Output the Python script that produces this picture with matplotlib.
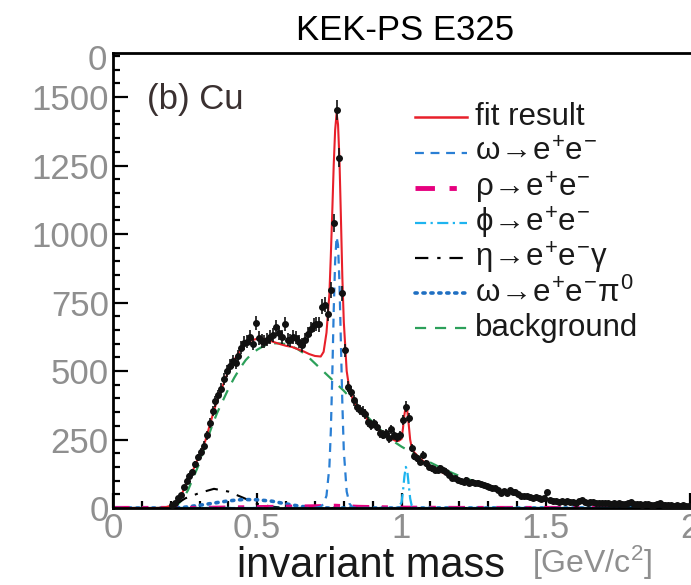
# Invariant mass spectrum, Cu target (KEK-PS E325 style)

import matplotlib
matplotlib.use("Agg")
import matplotlib.pyplot as plt
import numpy as np
from matplotlib.lines import Line2D
from matplotlib.ticker import MultipleLocator

plt.rcParams['font.family'] = ['Liberation Sans', 'DejaVu Sans']
plt.rcParams['mathtext.fontset'] = 'custom'
plt.rcParams['mathtext.rm'] = 'Liberation Sans'
plt.rcParams['mathtext.it'] = 'Liberation Sans'
plt.rcParams['mathtext.bf'] = 'Liberation Sans:bold'

# data points (bin centres 0.205 ... 1.995, width 0.01)
mass = np.round(np.arange(0.205, 2.0, 0.01), 3)
counts = [
    10, 20, 35, 48, 75, 100, 118, 130, 160, 185,
    205, 228, 265, 310, 355, 390, 412, 435, 470, 500,
    520, 535, 530, 555, 585, 603, 607, 625, 600, 676,
    620, 610, 607, 615, 625, 632, 660, 640, 625, 672,
    615, 612, 625, 622, 607, 595, 615, 635, 655, 668,
    672, 670, 735, 742, 708, 796, 1040, 1453, 1279, 784,
    575, 443, 425, 394, 370, 358, 352, 342, 315, 303,
    309, 297, 273, 268, 273, 254, 287, 266, 258, 266,
    321, 370, 327, 218, 190, 181, 169, 193, 163, 151,
    145, 140, 139, 145, 139, 133, 121, 110, 108, 104,
    98, 96, 102, 90, 96, 90, 92, 86, 84, 82,
    78, 74, 72, 66, 56, 62, 55, 64, 60, 58,
    52, 45, 42, 44, 40, 38, 40, 35, 33, 36,
    58, 28, 24, 26, 22, 24, 22, 25, 21, 23,
    20, 26, 29, 22, 20, 22, 23, 18, 20, 19,
    17, 18, 16, 18, 15, 17, 16, 14, 18, 22,
    15, 13, 14, 12, 13, 14, 12, 11, 13, 20,
    12, 10, 11, 10, 9, 10, 9, 10, 8, 9,
]
counts = np.array(counts)

# fit result
fit_x = [0.0, 0.15, 0.18, 0.20, 0.22, 0.24, 0.26, 0.28, 0.30, 0.32, 0.34, 0.36, 0.38,
         0.40, 0.42, 0.44, 0.46, 0.48, 0.50, 0.52, 0.54, 0.56, 0.58, 0.60, 0.62,
         0.64, 0.66, 0.68, 0.70, 0.72, 0.73, 0.74, 0.75, 0.755, 0.76, 0.765,
         0.77, 0.775, 0.78, 0.785, 0.79, 0.795, 0.80, 0.81, 0.82, 0.83, 0.84,
         0.86, 0.88, 0.90, 0.92, 0.94, 0.96, 0.98, 0.99, 1.00, 1.005, 1.01,
         1.015, 1.02, 1.025, 1.03, 1.035, 1.04, 1.06, 1.08, 1.10, 1.15, 1.20,
         1.25, 1.30, 1.35, 1.40, 1.45, 1.50, 1.55, 1.60, 1.70, 1.80, 1.90, 2.00]
fit_y = [0, 0, 2, 8, 22, 55, 100, 145, 195, 245, 320, 390, 445,
         500, 540, 575, 600, 612, 618, 618, 612, 605, 598, 592, 588,
         580, 572, 562, 555, 553, 570, 640, 780, 920, 1080, 1250,
         1380, 1440, 1400, 1270, 1060, 840, 680, 500, 430, 400, 378,
         350, 325, 305, 287, 270, 256, 245, 245, 252, 290, 340,
         372, 355, 305, 250, 222, 208, 185, 167, 152, 125, 103,
         88, 75, 62, 50, 41, 33, 27, 22, 16, 12, 9, 7]

# background
bg_x = [0.0, 0.20, 0.22, 0.24, 0.26, 0.28, 0.30, 0.32, 0.34, 0.36, 0.38, 0.40,
        0.42, 0.44, 0.46, 0.48, 0.50, 0.52, 0.54, 0.56, 0.58, 0.60, 0.62, 0.64,
        0.66, 0.68, 0.70, 0.72, 0.74, 0.76, 0.78, 0.80, 0.82, 0.84, 0.86, 0.88,
        0.90, 0.92, 0.94, 0.96, 0.98, 1.00, 1.02, 1.04, 1.06, 1.08, 1.10, 1.15,
        1.20, 1.25, 1.30, 1.35, 1.40, 1.45, 1.50, 1.55, 1.60, 1.70, 1.80, 1.90, 2.00]
bg_y = [0, 0, 8, 30, 65, 115, 165, 230, 290, 345, 390, 435,
        475, 510, 540, 562, 578, 590, 598, 601, 601, 598, 590, 580,
        566, 548, 528, 508, 488, 468, 448, 428, 405, 382, 358, 335,
        314, 293, 273, 254, 238, 224, 212, 200, 188, 177, 166, 140,
        117, 98, 80, 64, 52, 42, 34, 27, 22, 15, 11, 8, 6]

# omega -> e+e-
om_x = [0.0, 0.70, 0.72, 0.73, 0.74, 0.75, 0.755, 0.76, 0.765, 0.77, 0.775, 0.78,
        0.785, 0.79, 0.795, 0.80, 0.81, 0.82, 0.83, 0.85, 2.0]
om_y = [0, 0, 5, 15, 45, 150, 280, 480, 720, 900, 990, 960,
        820, 600, 380, 210, 60, 15, 3, 0, 0]

# rho -> e+e-
rho_x = [0.0, 0.3, 0.5, 0.7, 0.77, 0.85, 1.0, 1.2, 2.0]
rho_y = [0, 0, 3, 6, 8, 4, 1, 0, 0]

# phi -> e+e-
phi_x = [0.0, 0.98, 0.99, 1.00, 1.005, 1.01, 1.015, 1.02, 1.025, 1.03, 1.035, 1.045, 2.0]
phi_y = [0, 0, 3, 20, 60, 115, 150, 135, 85, 35, 10, 0, 0]

# eta -> e+e-gamma
eta_x = [0.0, 0.20, 0.22, 0.25, 0.30, 0.35, 0.40, 0.45, 0.50, 0.55, 0.60, 2.0]
eta_y = [0, 0, 15, 35, 55, 70, 60, 38, 15, 5, 0, 0]

# omega -> e+e-pi0
omd_x = [0.0, 0.20, 0.25, 0.30, 0.35, 0.40, 0.45, 0.50, 0.55, 0.60, 0.65, 0.70, 0.75, 2.0]
omd_y = [0, 0, 3, 10, 18, 26, 31, 30, 25, 15, 6, 1, 0, 0]

c_red = '#e8202a'
c_omega = '#2a7fd4'
c_rho = '#e6007e'
c_phi = '#1eb4ef'
c_omd = '#1f6fc2'
c_bg = '#2ca05a'
c_tick = '#8f8f8f'

fig = plt.figure(figsize=(6.91, 5.85), dpi=100)
ax = fig.add_axes([113 / 691, 77 / 585, 577 / 691, 455 / 585])

ax.plot(bg_x, bg_y, color=c_bg, lw=1.6, dashes=(5, 4))
ax.plot(eta_x, eta_y, color='black', lw=1.5, dashes=(6, 4, 1.5, 4))
ax.plot(omd_x, omd_y, color=c_omd, lw=2.6, dashes=(0.6, 1.6), dash_capstyle='round')
ax.plot(rho_x, rho_y, color=c_rho, lw=3, dashes=(4, 3, 1.5, 3))
ax.plot(om_x, om_y, color=c_omega, lw=1.6, dashes=(4, 3))
ax.plot(phi_x, phi_y, color=c_phi, lw=1.6, dashes=(5, 2, 1, 2))
ax.plot(fit_x, fit_y, color=c_red, lw=1.5)
ax.errorbar(mass, counts, yerr=np.sqrt(counts), xerr=0.005, fmt='o', ms=4,
            color='#111111', elinewidth=1.2, capsize=0, zorder=5)

ax.set_xlim(0, 2.0)
ax.set_ylim(0, 1661)

ax.spines['right'].set_visible(False)
for s in ['left', 'top', 'bottom']:
    ax.spines[s].set_linewidth(2)

ax.xaxis.set_major_locator(MultipleLocator(0.5))
ax.xaxis.set_minor_locator(MultipleLocator(0.1))
ax.yaxis.set_major_locator(MultipleLocator(250))
ax.yaxis.set_minor_locator(MultipleLocator(50))
ax.tick_params(which='both', direction='in', top=False, right=False, width=1.6,
               labelsize=25, labelcolor=c_tick)
ax.tick_params(which='major', length=11, pad=3)
ax.tick_params(which='minor', length=5)
ax.set_xticks([0, 0.5, 1, 1.5, 2])
ax.set_xticklabels(['0', '0.5', '1', '1.5', '2'])

# leftover "0" of the panel above
fig.text(107 / 691, 1 - 60 / 585, '0', ha='right', va='center', fontsize=25, color=c_tick)

fig.text(405 / 691, 1 - 30 / 585, 'KEK-PS E325', ha='center', va='center', fontsize=25)
ax.text((147 - 113) / 577, (508 - 100) / 455, '(b) Cu', transform=ax.transAxes,
        ha='left', va='center', fontsize=25, color='#3a3030')

fig.text(371 / 691, 1 - 566 / 585, 'invariant mass', ha='center', va='center',
         fontsize=30, color='#1a1a1a')
fig.text(532 / 691, 1 - 563 / 585, r'[GeV/c$^2$]', ha='left', va='center',
         fontsize=23, color=c_tick)

# legend
legend_rows = [
    ('fit result', dict(color=c_red, lw=1.8)),
    (r'$\omega\!\rightarrow\!e^{+}e^{-}$', dict(color=c_omega, lw=1.6, dashes=(4, 3))),
    (r'$\rho\!\rightarrow\!e^{+}e^{-}$', dict(color=c_rho, lw=3.5, dashes=(4, 3, 1.5, 3))),
    (r'$\phi\!\rightarrow\!e^{+}e^{-}$', dict(color=c_phi, lw=1.6, dashes=(5, 2, 1, 2))),
    (r'$\eta\!\rightarrow\!e^{+}e^{-}\gamma$', dict(color='black', lw=1.6, dashes=(6, 4, 1.5, 4))),
    (r'$\omega\!\rightarrow\!e^{+}e^{-}\pi^{0}$', dict(color=c_omd, lw=2.6, dashes=(0.6, 1.6),
                                                    dash_capstyle='round')),
    ('background', dict(color=c_bg, lw=1.6, dashes=(5, 4))),
]
row_px = [117, 153, 188, 223, 258, 293, 328]
for (label, style), py in zip(legend_rows, row_px):
    yy = (508 - py) / 455
    ax.add_line(Line2D([(415 - 113) / 577, (467 - 113) / 577], [yy, yy],
                       transform=ax.transAxes, **style))
    ax.text((475 - 113) / 577, yy, label, transform=ax.transAxes,
            ha='left', va='center', fontsize=22.5, color='#1a1a1a')

fig.savefig('out.png', dpi=100)
